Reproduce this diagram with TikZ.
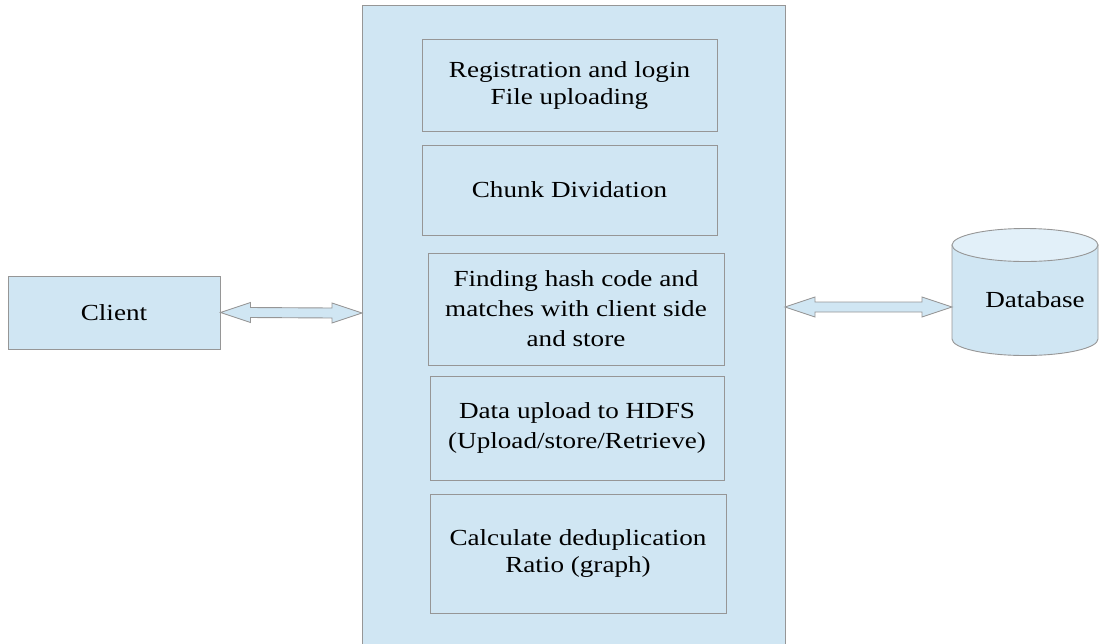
\documentclass[tikz,border=0pt]{standalone}
\usepackage{fontspec}
\setmainfont{Liberation Serif}[FakeStretch=1.18]
\usetikzlibrary{calc}
\definecolor{boxfill}{RGB}{208,230,243}
\definecolor{topfill}{RGB}{226,240,249}
\definecolor{edge}{RGB}{150,150,150}
\newcommand\dblarrow[2]{%
  \draw[arrowsty] let \p1=(#1), \p2=(#2) in
    (\x1,\y1) -- (\x1+30pt,\y1+10pt) -- (\x1+30pt,\y1+5pt) -- (\x2-30pt,\y2+5pt)
    -- (\x2-30pt,\y2+10pt) -- (\x2,\y2) -- (\x2-30pt,\y2-10pt) -- (\x2-30pt,\y2-5pt)
    -- (\x1+30pt,\y1-5pt) -- (\x1+30pt,\y1-10pt) -- cycle;}
\begin{document}
\begin{tikzpicture}[x=1pt,y=-1pt,
  base/.style={draw=edge,fill=boxfill,line width=0.9pt},
  stepbox/.style={base,rectangle,inner sep=0pt,align=center,
    font=\fontsize{23}{27}\selectfont},
  arrowsty/.style={draw=edge,fill=boxfill,line width=0.9pt,line join=miter}]
\useasboundingbox (0,0) rectangle (1099,643);
% main column
\draw[base] (362,5) rectangle (785,660);
\node[stepbox,minimum width=295,minimum height=92] (b1) at (569.5,85)
  {Registration and login\\File uploading};
\node[stepbox,minimum width=295,minimum height=90] (b2) at (569.5,190)
  {Chunk Dividation};
\node[stepbox,minimum width=296,minimum height=112,
  font=\fontsize{23}{30}\selectfont] (b3) at (576,309)
  {Finding hash code and\\matches with client side\\and store};
\node[stepbox,minimum width=294,minimum height=104,
  font=\fontsize{23}{30}\selectfont] (b4) at (577,428)
  {Data upload to HDFS\\(Upload/store/Retrieve)};
\node[stepbox,minimum width=296,minimum height=119] (b5) at (578,553.5)
  {Calculate deduplication\\Ratio (graph)};
% client
\node[stepbox,minimum width=212,minimum height=73] (client) at (114,312.5) {Client};
% database cylinder
\draw[base] (952,245) -- (952,339) arc[start angle=180,end angle=0,x radius=73,y radius=16.5]
  -- (1098,245) -- cycle;
\draw[draw=edge,fill=topfill,line width=0.9pt] (1025,245) ellipse[x radius=73,y radius=16.5];
\node[font=\fontsize{23}{27}\selectfont,inner sep=0pt] (db) at (1035,300) {Database};
\coordinate (dbwest) at (952,307);
\coordinate (mainE) at (785,307);
\coordinate (mainW) at (362,313);
% connectors
\dblarrow{client.east}{mainW}
\dblarrow{mainE}{dbwest}
\end{tikzpicture}
\end{document}
